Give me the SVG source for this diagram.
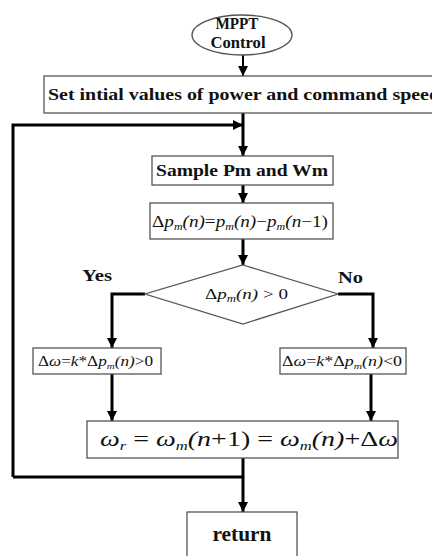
<svg xmlns="http://www.w3.org/2000/svg" width="432" height="556" viewBox="0 0 432 556">
<style>
.box{fill:#fff;stroke:#555;stroke-width:1.3}
.t{font-family:"Liberation Serif",serif;font-weight:bold;fill:#111}
.m{font-family:"Liberation Serif",serif;font-style:italic;fill:#111}
.c{fill:none;stroke:#000;stroke-width:3}
.c2{fill:none;stroke:#000;stroke-width:2}
</style>
<defs>
<marker id="ah" markerUnits="userSpaceOnUse" markerWidth="12" markerHeight="12" refX="10" refY="5" orient="auto">
<path d="M0,0 L10,5 L0,10 Z" fill="#000"/>
</marker>
</defs>
<rect width="432" height="556" fill="#fff"/>
<g id="connectors">
<line class="c2" x1="243" y1="55" x2="243" y2="76" marker-end="url(#ah)"/>
<line class="c" x1="243" y1="113" x2="243" y2="156" marker-end="url(#ah)"/>
<polyline class="c" points="13,477 13,125 243,125" marker-end="url(#ah)"/>
<line class="c" x1="243" y1="185" x2="243" y2="203" marker-end="url(#ah)"/>
<line class="c" x1="243" y1="239" x2="243" y2="265" marker-end="url(#ah)"/>
<polyline class="c" points="145,294 112,294 112,348" marker-end="url(#ah)"/>
<polyline class="c" points="338,294 373,294 373,348" marker-end="url(#ah)"/>
<line class="c" x1="112" y1="374" x2="112" y2="421" marker-end="url(#ah)"/>
<line class="c" x1="371" y1="374" x2="371" y2="421" marker-end="url(#ah)"/>
<polyline class="c" points="13,477 243,477"/>
<line class="c" x1="243" y1="458" x2="243" y2="512" marker-end="url(#ah)"/>
</g>
<g id="start">
<ellipse cx="242" cy="35" rx="50" ry="20" fill="#fff" stroke="#555" stroke-width="1.3"/>
<text class="t" x="237" y="29" font-size="17" text-anchor="middle" textLength="43" lengthAdjust="spacingAndGlyphs">MPPT</text>
<text class="t" x="238" y="48" font-size="17" text-anchor="middle" font-weight="normal" textLength="55" lengthAdjust="spacingAndGlyphs">Control</text>
</g>
<g id="init">
<rect class="box" x="44" y="76" width="400" height="37"/>
<text class="t" x="48" y="100" font-size="17" textLength="392" lengthAdjust="spacingAndGlyphs">Set intial values of power and command speed</text>
</g>
<g id="sample">
<rect class="box" x="152" y="156" width="181" height="29"/>
<text class="t" x="242" y="176" font-size="16" text-anchor="middle" textLength="172" lengthAdjust="spacingAndGlyphs">Sample Pm and Wm</text>
</g>
<g id="delta">
<rect class="box" x="150" y="203" width="183" height="36"/>
<text class="m" x="152" y="227" font-size="16" textLength="176" lengthAdjust="spacingAndGlyphs"><tspan font-style="normal">Δ</tspan>p<tspan font-size="10" dy="3">m</tspan><tspan dy="-3">(n)</tspan><tspan font-style="normal">=</tspan>p<tspan font-size="10" dy="3">m</tspan><tspan dy="-3">(n)</tspan><tspan font-style="normal">−</tspan>p<tspan font-size="10" dy="3">m</tspan><tspan dy="-3">(n</tspan><tspan font-style="normal">−1)</tspan></text>
</g>
<g id="decision">
<polygon points="243,265 338,294 243,324 145,294" fill="#fff" stroke="#555" stroke-width="1.3"/>
<text class="m" x="205" y="299" font-size="15" textLength="83" lengthAdjust="spacingAndGlyphs"><tspan font-style="normal">Δ</tspan>p<tspan font-size="10" dy="3">m</tspan><tspan dy="-3">(n)</tspan><tspan font-style="normal"> &gt; 0</tspan></text>
</g>
<g id="labels">
<text class="t" x="82" y="281" font-size="17" textLength="30" lengthAdjust="spacingAndGlyphs">Yes</text>
<text class="t" x="338" y="283" font-size="17" textLength="25" lengthAdjust="spacingAndGlyphs">No</text>
</g>
<g id="yesbox">
<rect class="box" x="33" y="348" width="128" height="26"/>
<text class="m" x="38" y="366" font-size="14" textLength="115" lengthAdjust="spacingAndGlyphs"><tspan font-style="normal">Δ</tspan>ω<tspan font-style="normal">=</tspan>k<tspan font-style="normal">*Δ</tspan>p<tspan font-size="9" dy="3">m</tspan><tspan dy="-3">(n)</tspan><tspan font-style="normal">&gt;0</tspan></text>
</g>
<g id="nobox">
<rect class="box" x="280" y="348" width="126" height="26"/>
<text class="m" x="282" y="366" font-size="14" textLength="120" lengthAdjust="spacingAndGlyphs"><tspan font-style="normal">Δ</tspan>ω<tspan font-style="normal">=</tspan>k<tspan font-style="normal">*Δ</tspan>p<tspan font-size="9" dy="3">m</tspan><tspan dy="-3">(n)</tspan><tspan font-style="normal">&lt;0</tspan></text>
</g>
<g id="update">
<rect class="box" x="87" y="421" width="311" height="37"/>
<text class="m" x="100" y="446" font-size="22" textLength="298" lengthAdjust="spacingAndGlyphs">ω<tspan font-size="13" dy="4">r</tspan><tspan dy="-4" font-style="normal"> = </tspan>ω<tspan font-size="13" dy="4">m</tspan><tspan dy="-4">(n</tspan><tspan font-style="normal">+1) = </tspan>ω<tspan font-size="13" dy="4">m</tspan><tspan dy="-4">(n)</tspan><tspan font-style="normal">+Δ</tspan>ω</text>
</g>
<g id="return">
<rect class="box" x="187" y="512" width="110" height="60"/>
<text class="t" x="242" y="541" font-size="20" text-anchor="middle" textLength="59" lengthAdjust="spacingAndGlyphs">return</text>
</g>
</svg>
